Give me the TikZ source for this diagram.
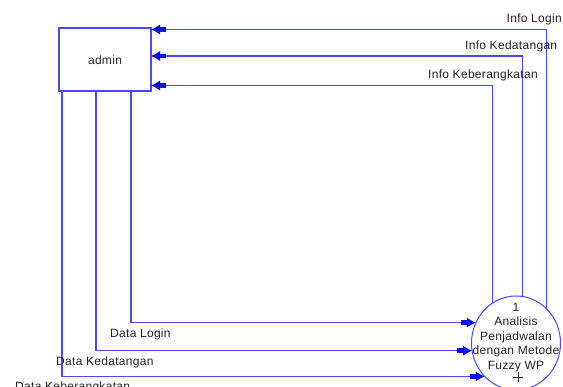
\documentclass[tikz,border=0pt]{standalone}
\usepackage{fontspec}
\setmainfont{Liberation Sans}[LetterSpace=2.5]
\usetikzlibrary{arrows.meta,shapes.geometric}
\definecolor{ln}{RGB}{72,72,255}
\definecolor{tipc}{RGB}{10,10,235}
\definecolor{txt}{RGB}{35,35,35}
\tikzset{
  lbl/.style={font=\fontsize{12}{14.5}\selectfont, text=txt, inner sep=0pt},
  flow/.style={draw=ln, line width=1.1pt, -{Rectangle[length=6pt,width=4.5pt,fill=tipc,color=tipc] Latex[length=9pt,width=10pt,fill=tipc,color=tipc]}},
  entity/.style={draw=ln, line width=1.1pt, rectangle, minimum width=92pt, minimum height=63pt, inner sep=0pt, outer sep=0pt},
  procshape/.style={draw=ln, line width=1pt, ellipse, minimum width=89pt, minimum height=94pt, inner sep=0pt, outer sep=0pt}
}
\begin{document}
\begin{tikzpicture}[x=1pt,y=-1pt]
\useasboundingbox (0,0) rectangle (563,387);
\clip (0,0) rectangle (563,387);
\fill[white] (0,0) rectangle (563,387);

\node[entity] (admin) at (105,59.5) {};
\node[lbl] (adminl) at (105,60) {admin};

\node[procshape] (proc) at (516,343) {};
\node[lbl, align=center] (procl) at (516,337.5) {1\\Analisis\\Penjadwalan\\dengan Metode\\Fuzzy WP};
\draw[txt, line width=0.7pt] (513,377) -- (523,377) (518,372) -- (518,382);

\coordinate (yl) at (0,29.5);
\coordinate (yk) at (0,56);
\coordinate (yb) at (0,85.5);
\coordinate (xl) at (131,0);
\coordinate (xk) at (96,0);
\coordinate (xb) at (62,0);

\draw[flow] (proc.49.2) |- (admin.east |- yl);
\draw[flow] (proc.82.7) |- (admin.east |- yk);
\draw[flow] (proc.121.2) |- (admin.east |- yb);
\draw[flow] (admin.south -| xl) |- (proc.153.6);
\draw[flow] (admin.south -| xk) |- (proc.190.35);
\draw[flow] (admin.south -| xb) |- (proc.227.9);

\node[lbl, anchor=base east] (il) at (562,22.7) {Info Login};
\node[lbl, anchor=base west] (ik) at (465,50) {Info Kedatangan};
\node[lbl, anchor=base west] (ib) at (428,79) {Info Keberangkatan};
\node[lbl, anchor=base west] (dl) at (110,337.3) {Data Login};
\node[lbl, anchor=base west] (dk) at (56,365.7) {Data Kedatangan};
\node[lbl, anchor=base west] (db) at (15,390.4) {Data Keberangkatan};
\end{tikzpicture}
\end{document}
